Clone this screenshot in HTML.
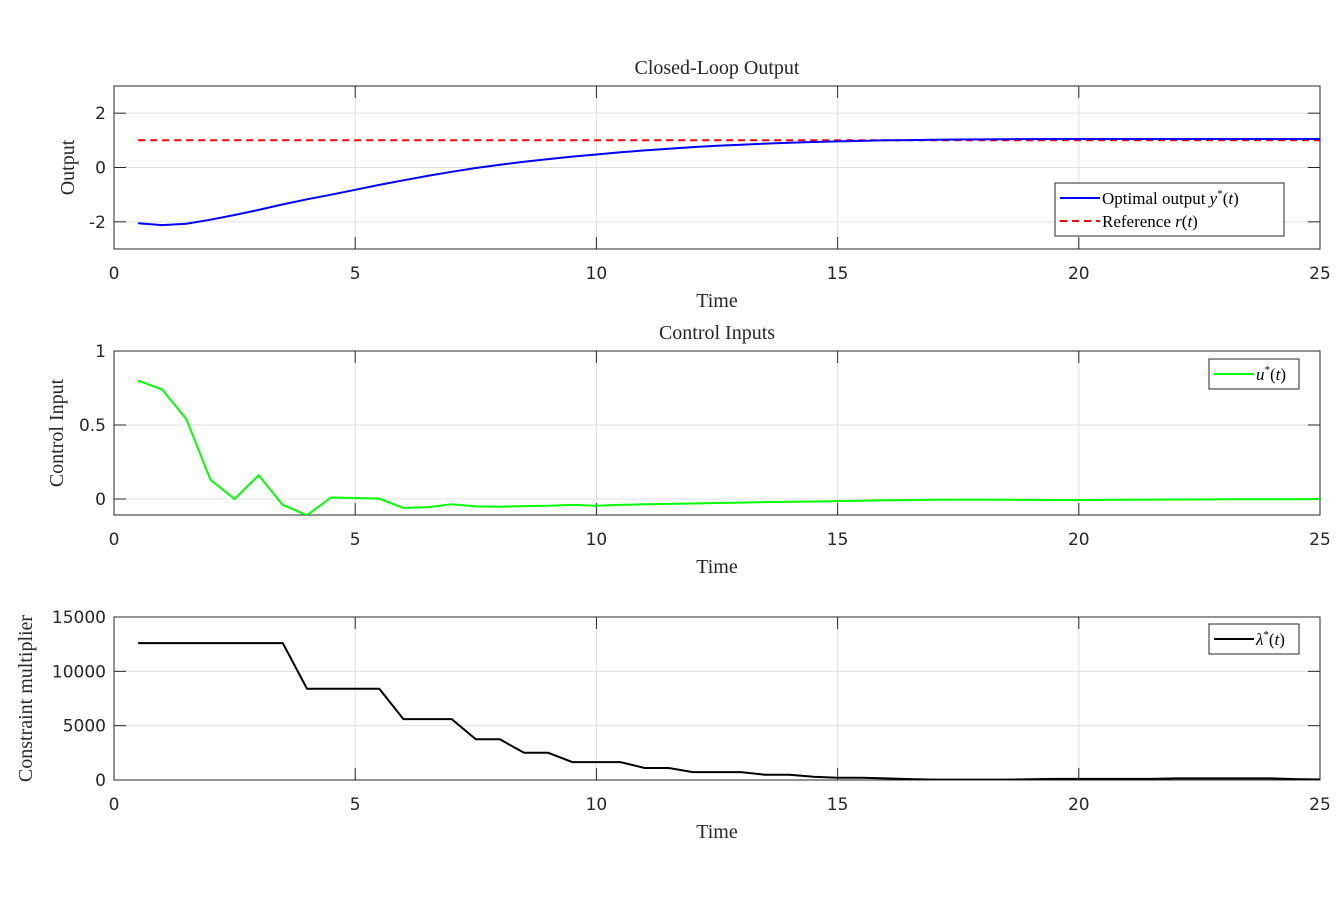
<!DOCTYPE html>
<html><head><meta charset="utf-8"><style>
body{margin:0;background:#fff;}
svg{display:block;}
.tk{font-family:"DejaVu Sans","Liberation Sans",sans-serif;font-size:17px;fill:#262626;}
.sr{font-family:"Liberation Serif",serif;font-size:20px;fill:#262626;}
.lg{font-family:"Liberation Serif",serif;font-size:17px;fill:#000;}
</style></head><body>
<svg id="fig" width="1340" height="917"></svg>
<script>
const tVals=[0.5,1,1.5,2,2.5,3,3.5,4,4.5,5,5.5,6,6.5,7,7.5,8,8.5,9,9.5,10,10.5,11,11.5,12,12.5,13,13.5,14,14.5,15,15.5,16,16.5,17,17.5,18,18.5,19,19.5,20,20.5,21,21.5,22,22.5,23,23.5,24,24.5,25];
const yOut=[-2.05,-2.12,-2.07,-1.92,-1.75,-1.56,-1.36,-1.17,-1.0,-0.82,-0.64,-0.47,-0.31,-0.16,-0.02,0.1,0.21,0.31,0.4,0.48,0.56,0.63,0.69,0.75,0.8,0.84,0.88,0.91,0.94,0.96,0.98,1.0,1.01,1.02,1.03,1.035,1.04,1.045,1.05,1.05,1.05,1.05,1.05,1.05,1.05,1.05,1.05,1.05,1.05,1.05];
const refVals=[1,1];
const uVals=[0.80,0.74,0.54,0.13,0.0,0.16,-0.04,-0.11,0.01,0.007,0.003,-0.06,-0.055,-0.035,-0.05,-0.052,-0.048,-0.045,-0.04,-0.045,-0.04,-0.035,-0.033,-0.03,-0.027,-0.024,-0.021,-0.019,-0.017,-0.014,-0.012,-0.009,-0.007,-0.005,-0.004,-0.004,-0.005,-0.006,-0.007,-0.007,-0.006,-0.005,-0.004,-0.003,-0.003,-0.002,-0.002,-0.001,-0.001,0];
const lamVals=[12600,12600,12600,12600,12600,12600,12600,8400,8400,8400,8400,5600,5600,5600,3750,3750,2500,2500,1650,1650,1650,1100,1100,730,730,730,480,480,300,200,200,150,80,40,40,40,40,60,100,100,100,100,100,150,150,150,150,150,80,50];
const xTicks=[0,5,10,15,20,25];
</script>
<script>
const NS="http://www.w3.org/2000/svg";
const svg=document.getElementById('fig');
function mk(tag,attrs,parent){const e=document.createElementNS(NS,tag);for(const k in attrs)e.setAttribute(k,attrs[k]);(parent||svg).appendChild(e);return e;}
const X0=114,X1=1320;
function sx(t){return X0+(t-0)/(25-0)*(X1-X0);}
function panel(name,top,bot,ymin,ymax,yt,ytl,title,ylabel){
  const g=mk('g',{});
  
  
  const sy=v=>bot-(v-ymin)/(ymax-ymin)*(bot-top);
  mk('rect',{x:X0,y:top,width:X1-X0,height:bot-top,fill:'#fff'},g);
  xTicks.forEach(t=>{
    mk('line',{x1:sx(t),x2:sx(t),y1:top,y2:bot,stroke:'#dfdfdf','stroke-width':1},g);
    mk('line',{x1:sx(t),x2:sx(t),y1:top,y2:top+12,stroke:'#262626'},g);
    mk('line',{x1:sx(t),x2:sx(t),y1:bot,y2:bot-12,stroke:'#262626'},g);
    const tx=mk('text',{x:sx(t),y:bot+30,'text-anchor':'middle',class:'tk'},g);tx.textContent=t;
    
    
  });
  yt.forEach((v,i)=>{
    mk('line',{x1:X0,x2:X1,y1:sy(v),y2:sy(v),stroke:'#dfdfdf'},g);
    mk('line',{x1:X0,x2:X0+12,y1:sy(v),y2:sy(v),stroke:'#262626'},g);
    mk('line',{x1:X1,x2:X1-12,y1:sy(v),y2:sy(v),stroke:'#262626'},g);
    const tx=mk('text',{x:X0-8,y:sy(v)+6,'text-anchor':'end',class:'tk'},g);tx.textContent=ytl[i];
    
    
  });
  mk('rect',{x:X0,y:top,width:X1-X0,height:bot-top,fill:'none',stroke:'#262626','stroke-width':1},g);
  const xl=mk('text',{x:717,y:bot+58,'text-anchor':'middle',class:'sr'},g);xl.textContent='Time';
  
  
  if(title){const tt=mk('text',{x:717,y:top-12,'text-anchor':'middle',class:'sr'},g);tt.textContent=title;
    
    }
  const cy=(top+bot)/2;
  const yl=mk('text',{x:0,y:0,'text-anchor':'middle',class:'sr',transform:`translate(${ylabel[1]},${cy}) rotate(-90)`},g);yl.textContent=ylabel[0];
  
  
  return {g,sy,top,bot};
}
function line(p,xs,ys,color,dash,name){
  const cp=mk('clipPath',{id:'c'+name});mk('rect',{x:X0,y:p.top,width:X1-X0,height:p.bot-p.top},cp);
  const d=xs.map((t,i)=>(i?'L':'M')+sx(t).toFixed(1)+','+p.sy(ys[i]).toFixed(1)).join('');
  const e=mk('path',{d,fill:'none',stroke:color,'stroke-width':2,'clip-path':`url(#c${name})`},p.g);
  if(dash)e.setAttribute('stroke-dasharray',dash);
  
  
}
function legend(p,x,y,w,items){
  const g=mk('g',{},p.g);
  
  
  mk('rect',{x,y,width:w,height:items.length*23+7,fill:'#fff',stroke:'#262626'},g);
  items.forEach((it,i)=>{
    const yy=y+15+i*23;
    const l=mk('line',{x1:x+5,x2:x+45,y1:yy,y2:yy,stroke:it[1],'stroke-width':2},g);
    if(it[2])l.setAttribute('stroke-dasharray',it[2]);
    const t=mk('text',{x:x+47,y:yy+6,class:'lg'},g);t.innerHTML=it[0];
    
    
  });
}
const p1=panel('output-panel',86,249,-3,3,[-2,0,2],['-2','0','2'],'Closed-Loop Output',['Output',74]);
line(p1,[0.5,25],refVals,'#ff0000','7,5','reference-line');
line(p1,tVals,yOut,'#0000ff',null,'output-line');
legend(p1,1055,183,229,[['Optimal output <tspan font-style="italic">y</tspan><tspan font-size="11" dy="-7">*</tspan><tspan dy="7">(</tspan><tspan font-style="italic">t</tspan>)','#0000ff'],['Reference <tspan font-style="italic">r</tspan>(<tspan font-style="italic">t</tspan>)','#ff0000','7,5']]);
const p2=panel('control-panel',351,515,-0.108,1,[0,0.5,1],['0','0.5','1'],'Control Inputs',['Control Input',63]);
line(p2,tVals,uVals,'#00ff00',null,'control-line');
legend(p2,1209,359,90,[['<tspan font-style="italic">u</tspan><tspan font-size="11" dy="-7">*</tspan><tspan dy="7">(</tspan><tspan font-style="italic">t</tspan>)','#00ff00']]);
const p3=panel('multiplier-panel',617,780,0,15000,[0,5000,10000,15000],['0','5000','10000','15000'],null,['Constraint multiplier',32]);
line(p3,tVals,lamVals,'#000000',null,'multiplier-line');
legend(p3,1209,624,90,[['<tspan font-style="italic">λ</tspan><tspan font-size="11" dy="-7">*</tspan><tspan dy="7">(</tspan><tspan font-style="italic">t</tspan>)','#000000']]);
</script>
</body></html>
